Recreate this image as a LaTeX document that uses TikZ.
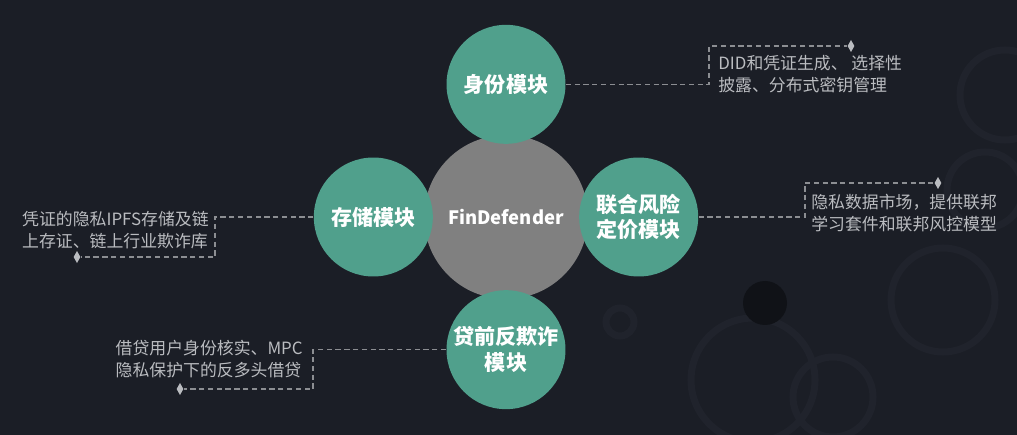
\documentclass[tikz,border=0pt]{standalone}
\usepackage{fontspec}
\newfontfamily\cjk{Noto Sans CJK SC}
\usepackage{tikz}
\usetikzlibrary{shapes.geometric, positioning}
\definecolor{bgdark}{RGB}{27,30,38}
\definecolor{ringdark}{RGB}{32,35,44}
\definecolor{holedark}{RGB}{16,18,23}
\definecolor{modgreen}{RGB}{80,160,140}
\definecolor{coregray}{RGB}{128,128,128}
\definecolor{notegray}{RGB}{186,188,192}
\definecolor{linkgray}{RGB}{140,142,146}

\tikzset{
  module/.style={circle, fill=modgreen, minimum size=2.38cm, inner sep=0pt,
    text=white, align=center, font=\cjk\bfseries\fontsize{12}{14.5}\selectfont},
  core/.style={circle, fill=coregray, minimum size=3.28cm, inner sep=0pt,
    text=white, font=\cjk\bfseries\fontsize{10.5}{12}\selectfont},
  note/.style={text=notegray, align=left, inner sep=0pt,
    font=\cjk\fontsize{9.6}{12.4}\selectfont},
  link/.style={linkgray, line width=0.6pt, dash pattern=on 3pt off 2pt},
  tipmark/.style={diamond, fill=notegray, inner sep=0pt,
    minimum width=4pt, minimum height=7pt},
}

\begin{document}
\begin{tikzpicture}[x=0.02cm, y=-0.02cm]
    % Background
    \fill[bgdark] (0,0) rectangle (1017,435);
    \useasboundingbox (0,0) rectangle (1017,435);

    % Decorative rings
    \foreach \cx/\cy/\r in {943/300/52, 833/397/40, 753/380/62, 1005/95/45, 985/190/38, 620/322/14}
        \draw[ringdark, line width=4pt] (\cx,\cy) circle (\r);
    \fill[holedark] (765,303) circle (22);

    % Core and modules
    \node[core] (core) at (506,217) {FinDefender};
    \node[module, above=-0.19cm of core] (ident) {身份模块};
    \node[module, left=-0.19cm of core] (store) {存储模块};
    \node[module, right=-0.19cm of core] (price) {联合风险\\定价模块};
    \node[module, below=-0.19cm of core] (loan) {贷前反欺诈\\模块};

    % Callout tips and knees
    \foreach \name/\kx/\ky/\tx in {
        ident/709/46/851,
        price/805/183/938,
        store/215/257/77,
        loan/313/389/180
    } {
        \coordinate (\name-knee) at (\kx,\ky);
        \node[tipmark] (\name-tip) at (\tx,\ky) {};
    }

    % Dashed connectors
    \draw[link] (ident.east) -| (ident-knee) -- (ident-tip);
    \draw[link] (price.east) -| (price-knee) -- (price-tip);
    \draw[link] (store.west) -| (store-knee) -- (store-tip);
    \draw[link] (loan.west) -| (loan-knee) -- (loan-tip);

    % Descriptions
    \node[note, anchor=west] (ident-note) at (718,74) {DID和凭证生成、 选择性\\披露、分布式密钥管理};
    \node[note, anchor=west] (price-note) at (811,213) {隐私数据市场，提供联邦\\学习套件和联邦风控模型};
    \node[note, anchor=east] (store-note) at (209,230) {凭证的隐私IPFS存储及链\\上存证、链上行业欺诈库};
    \node[note, anchor=east] (loan-note) at (303,359) {借贷用户身份核实、MPC\\隐私保护下的反多头借贷};
\end{tikzpicture}
\end{document}
